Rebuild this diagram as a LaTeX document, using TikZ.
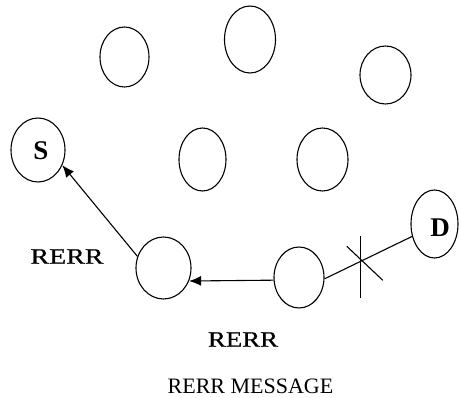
\documentclass[tikz,border=0pt]{standalone}
\usepackage{fontspec}
\usepackage{graphicx}
\setmainfont{Liberation Serif}
\newfontfamily\rerrfont[FakeBold=0.6]{Liberation Serif}
\usetikzlibrary{shapes.geometric,arrows.meta,calc}
\begin{document}
\begin{tikzpicture}[x=1pt,y=-1pt,
  nd/.style={draw,ellipse,inner sep=0pt,line width=1.1pt},
  conn/.style={line width=1.1pt},
  arr/.style={conn,-{Latex[length=12pt,width=10pt]}},
  letter/.style={font=\fontsize{27}{30}\selectfont\bfseries,inner sep=0pt},
  rerr/.style={font=\rerrfont\fontsize{22}{26}\selectfont,inner sep=0pt},
  caption/.style={font=\fontsize{22}{26}\selectfont,inner sep=0pt}]
\useasboundingbox (0,0) rectangle (459,398);
% nodes
\node[nd,minimum width=49pt,minimum height=60pt] (n1) at (124.5,57) {};
\node[nd,minimum width=51pt,minimum height=67pt] (n2) at (250,39.5) {};
\node[nd,minimum width=51pt,minimum height=58pt] (n3) at (385.5,75) {};
\node[nd,minimum width=47pt,minimum height=63pt] (n4) at (202.5,159.5) {};
\node[nd,minimum width=51pt,minimum height=63pt] (n5) at (322.5,159.5) {};
\node[nd,minimum width=54pt,minimum height=64pt] (s) at (38,150) {};
\node[nd,minimum width=55pt,minimum height=62pt] (a) at (163.5,268) {};
\node[nd,minimum width=50pt,minimum height=61pt] (b) at (299,277.5) {};
\node[nd,minimum width=47pt,minimum height=68pt] (d) at (434.5,224) {};
% letters
\node[letter] (sl) at (41,151) {S};
\node[letter] (dl) at (440,228) {D};
% connectors
\draw[arr] (a.156) -- (s.-32);
\draw[arr] (b.186.5) -- (a.-27.5);
\draw[conn] (b.-3) -- (d.209.5) coordinate[pos=0.414] (cut);
\draw[conn] ($(cut)+(0,-25)$) -- ($(cut)+(0,37)$);
\draw[conn] ($(cut)+(-14,-15)$) -- ($(cut)+(22,19)$);
% labels
\node[rerr] (r1) at (67,256.5) {\scalebox{1.27}[1]{RERR}};
\node[rerr] (r2) at (243,339.5) {\scalebox{1.22}[1]{RERR}};
\node[caption] (cap) at (250.5,386.5) {RERR MESSAGE};
\end{tikzpicture}
\end{document}
